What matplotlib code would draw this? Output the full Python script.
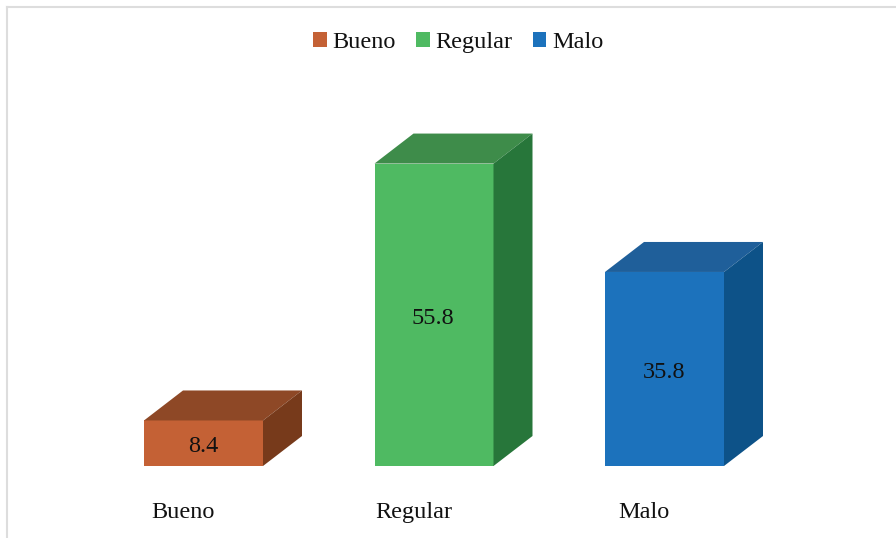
import numpy as np
from matplotlib import pyplot as plt
from matplotlib.lines import Line2D
from matplotlib.patches import Patch, Polygon, Rectangle

plt.rcParams['font.family'] = ['Liberation Serif', 'DejaVu Serif']

categories = ['Bueno', 'Regular', 'Malo']
values = [8.4, 55.8, 35.8]
front_colors = ['#C46135', '#4FBA62', '#1C72BC']
top_colors = ['#8E4826', '#3E8C4A', '#1F5F9A']
side_colors = ['#773A1B', '#27763A', '#0D5288']

W, H = 896, 538
px_per_cat = 230.5
px_per_val = 5.42
first_center = 203.5
base_px = 466

fig = plt.figure(figsize=(W / 100, H / 100), dpi=100)
ax = fig.add_axes([0, 0, 1, 1])
ax.set_xlim(-first_center / px_per_cat, (W - first_center) / px_per_cat)
ax.set_ylim(-(H - base_px) / px_per_val, base_px / px_per_val)
ax.axis('off')

bar_w = 119 / px_per_cat
depth_x = 39 / px_per_cat
depth_y = 30 / px_per_val

x = np.arange(len(categories))
for i in x:
    left = i - bar_w / 2
    right = i + bar_w / 2
    v = values[i]
    ax.add_patch(Rectangle((left, 0), bar_w, v, fc=front_colors[i], ec='none'))
    ax.add_patch(Polygon([(left, v), (right, v), (right + depth_x, v + depth_y),
                          (left + depth_x, v + depth_y)], fc=top_colors[i], ec='none'))
    ax.add_patch(Polygon([(right, 0), (right + depth_x, depth_y),
                          (right + depth_x, v + depth_y), (right, v)], fc=side_colors[i], ec='none'))
    # value in the middle of the front face
    ax.annotate(f'{v}', (i, v / 2), xytext=(-0.5, -2.5), textcoords='offset points',
                ha='center', va='center', fontsize=17.5, color='#111111')
    # category names sit a bit left of the bars, under the baseline
    ax.annotate(categories[i], (i, 0), xytext=(-14.6, -33.5), textcoords='offset points',
                ha='center', va='center', fontsize=17.5, color='#111111')

handles = [Patch(fc=c, ec='none', label=n) for c, n in zip(front_colors, categories)]
leg = ax.legend(handles=handles, ncol=3, frameon=False, loc='center', fontsize=17.5,
                bbox_to_anchor=(458.5 / W, 1 - 42.5 / H), handlelength=0.54, handleheight=0.54,
                handletextpad=0.25, columnspacing=0.84, labelcolor='#111111')
# keep the legend entries on one text line
leg._legend_handle_box.align = 'top'

# thin outer frame, only top and left show
frame = '#DDDDDD'
fig.add_artist(Line2D([7 / W, 1], [1 - 6.5 / H] * 2, color=frame, lw=1.5))
fig.add_artist(Line2D([7 / W] * 2, [0, 1 - 6.5 / H], color=frame, lw=1.5))

fig.savefig('out.png', dpi=100)
